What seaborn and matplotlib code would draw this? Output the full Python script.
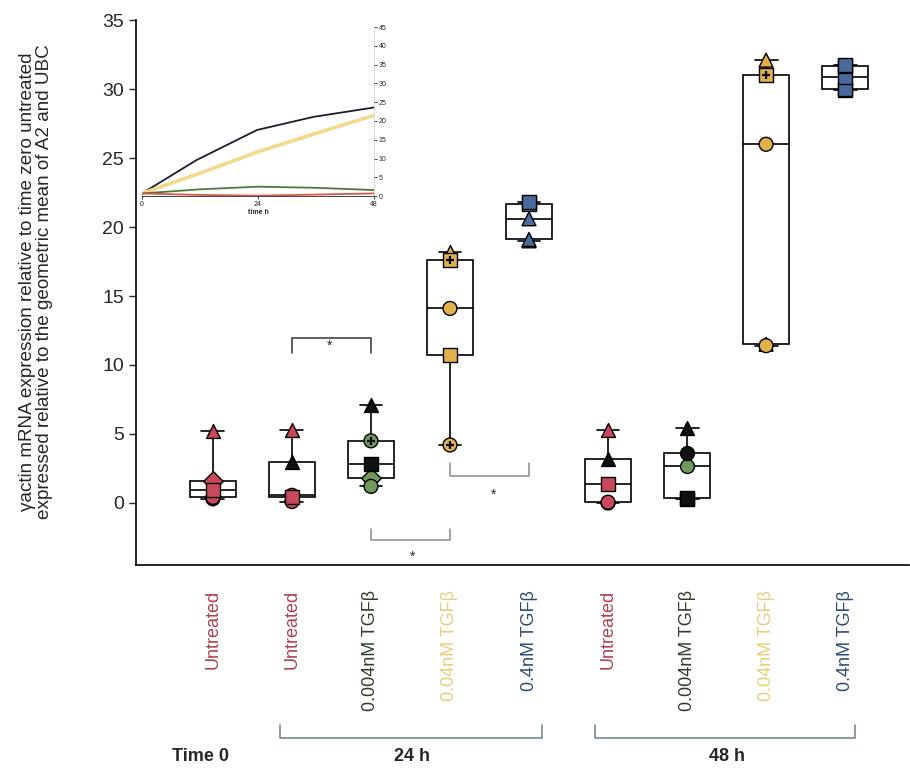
import numpy as np
import pandas as pd
import matplotlib
matplotlib.use("Agg")
import matplotlib.pyplot as plt
import matplotlib.transforms as mtransforms
import seaborn as sns

# categories (left to right)
groups = ["t0_u", "24_u", "24_004", "24_04", "24_4", "48_u", "48_004", "48_04", "48_4"]
tick_labels = ["Untreated", "Untreated", "0.004nM TGFβ", "0.04nM TGFβ", "0.4nM TGFβ",
               "Untreated", "0.004nM TGFβ", "0.04nM TGFβ", "0.4nM TGFβ"]
treatment = ["u", "u", "004", "04", "4", "u", "004", "04", "4"]

# replicate values
t0_untreated = [0.3, 0.4, 0.95, 1.6, 5.2]
h24_untreated = [0.1, 0.4, 0.55, 3.0, 5.3]
h24_0004 = [1.2, 1.8, 2.8, 4.5, 7.1]
h24_004 = [4.2, 10.7, 14.1, 17.6, 18.2]
h24_04 = [19.0, 19.1, 20.6, 21.7, 21.8]
h48_untreated = [0.0, 0.05, 1.4, 3.2, 5.3]
h48_0004 = [0.3, 0.35, 2.7, 3.6, 5.4]
h48_004 = [11.4, 11.5, 26.0, 31.0, 32.1]
h48_04 = [29.95, 30.0, 30.85, 31.7, 31.75]

# marker per replicate ("k" prefix = black fill, "+" suffix = cross inside)
mk_t0_untreated = ["o", "o", "s", "D", "^"]
mk_h24_untreated = ["o", "s", "o", "k^", "^"]
mk_h24_0004 = ["o", "D", "ks", "o+", "k^"]
mk_h24_004 = ["o+", "s", "o", "s+", "^"]
mk_h24_04 = ["^", "^", "^", "s", "s"]
mk_h48_untreated = ["o", "o", "s", "k^", "^"]
mk_h48_0004 = ["ks", "ks", "o", "ko", "k^"]
mk_h48_004 = ["o", "^", "o", "s+", "^"]
mk_h48_04 = ["s", "s", "s", "s", "s"]

# inset: time course
inset_t = [0, 11.3, 23.8, 35.5, 48]
inset_04 = [0.7, 9.6, 17.6, 21.1, 23.6]
inset_t_lin = [0, 12, 24, 36, 48]
inset_004 = [0.7, 6.1, 11.8, 16.7, 21.5]
inset_0004 = [0.7, 1.8, 2.5, 2.2, 1.6]
inset_u = [0.7, 0.3, 0.1, 0.4, 0.7]

values = [t0_untreated, h24_untreated, h24_0004, h24_004, h24_04,
          h48_untreated, h48_0004, h48_004, h48_04]
markers = [mk_t0_untreated, mk_h24_untreated, mk_h24_0004, mk_h24_004, mk_h24_04,
           mk_h48_untreated, mk_h48_0004, mk_h48_004, mk_h48_04]

rows = []
for g, vals, mks in zip(groups, values, markers):
    for v, m in zip(vals, mks):
        rows.append({"group": g, "value": v, "mk": m})
df = pd.DataFrame(rows)
df["black"] = df["mk"].str.startswith("k")
df["shape"] = df["mk"].str.replace("k", "").str.replace("+", "")
df["cross"] = df["mk"].str.endswith("+")

point_col = {"u": "#c9485b", "004": "#6f9a5f", "04": "#e2b24a", "4": "#4a6a9e"}
label_col = {"u": "#b23f4e", "004": "#2f3d28", "04": "#e8cf7a", "4": "#2d4a78"}
palette = {g: point_col[t] for g, t in zip(groups, treatment)}

sns.set_style("ticks")
plt.rcParams["font.family"] = ["Liberation Sans", "DejaVu Sans"]

fig = plt.figure(figsize=(9.1, 7.75), dpi=100)
ax = fig.add_axes([0.1495, 0.271, 0.8495, 0.703])

sns.boxplot(data=df, x="group", y="value", order=groups, whis=(0, 100),
            width=0.58, color="white", linecolor="black", linewidth=1.2,
            showfliers=False, ax=ax)

for (shape, black), sub in df.groupby(["shape", "black"]):
    if black:
        sns.stripplot(data=sub, x="group", y="value", order=groups, jitter=False,
                      marker=shape, color="#111111", size=10, edgecolor="black",
                      linewidth=1, ax=ax, zorder=3)
    else:
        sns.stripplot(data=sub, x="group", y="value", order=groups, jitter=False,
                      hue="group", palette=palette, legend=False, marker=shape,
                      size=10, edgecolor="black", linewidth=1, ax=ax, zorder=3)
crosses = df[df["cross"]]
sns.stripplot(data=crosses, x="group", y="value", order=groups, jitter=False,
              marker="+", color="black", size=6, linewidth=1.6, ax=ax, zorder=4)

ax.set_xlim(-0.973, 8.81)
ax.set_ylim(-4.5, 35)
ax.set_yticks(range(0, 36, 5))
ax.tick_params(axis="y", labelsize=14, length=5, width=1, direction="out")
ax.set_xticks(range(len(groups)))
ax.set_xticklabels(tick_labels, rotation=90, fontsize=13)
ax.tick_params(axis="x", length=0, pad=18)
for lbl, t in zip(ax.get_xticklabels(), treatment):
    lbl.set_color(label_col[t])
ax.set_xlabel("")
ax.set_ylabel("γactin mRNA expression relative to time zero untreated\n"
              "expressed relative to the geometric mean of A2 and UBC",
              fontsize=13.6, linespacing=1.0)
ax.yaxis.set_label_coords(-0.108, 0.52)
for s in ["top", "right"]:
    ax.spines[s].set_visible(False)
for s in ["left", "bottom"]:
    ax.spines[s].set_linewidth(1.2)
    ax.spines[s].set_color("black")

# significance brackets
ax.plot([1, 1, 2, 2], [10.9, 11.95, 11.95, 10.9], color="#333333", lw=1.1)
ax.text(1.47, 11.4, "*", ha="center", va="center", fontsize=10)
ax.plot([2.0, 2.0, 3.0, 3.0], [-1.9, -2.7, -2.7, -1.9], color="#8a8a8a", lw=1.1)
ax.text(2.53, -3.9, "*", ha="center", va="center", fontsize=10)
ax.plot([3.0, 3.0, 4.0, 4.0], [2.9, 1.95, 1.95, 2.9], color="#8a8a8a", lw=1.1)
ax.text(3.55, 0.6, "*", ha="center", va="center", fontsize=10)

# time group brackets under the labels
trans = mtransforms.blended_transform_factory(ax.transData, ax.transAxes)
br_col = "#6f7f88"
ax.plot([0.85, 0.85, 4.17, 4.17], [-0.294, -0.317, -0.317, -0.294],
        color=br_col, lw=1.1, transform=trans, clip_on=False)
ax.plot([4.84, 4.84, 8.13, 8.13], [-0.294, -0.317, -0.317, -0.294],
        color=br_col, lw=1.1, transform=trans, clip_on=False)
grp_font = dict(fontsize=13, fontweight="bold", ha="center", va="center",
                transform=trans, family=["Liberation Sans Narrow", "Liberation Sans"])
ax.text(-0.16, -0.352, "Time 0", **grp_font)
ax.text(2.52, -0.352, "24 h", **grp_font)
ax.text(6.51, -0.352, "48 h", **grp_font)

# inset time course
ins = fig.add_axes([0.156, 0.747, 0.255, 0.218])
ins.set_facecolor("none")
sns.lineplot(x=inset_t, y=inset_04, color="#1c1c2c", lw=1.3, ax=ins)
sns.lineplot(x=inset_t_lin, y=inset_004, color="#f2d98e", lw=2.6, ax=ins)
sns.lineplot(x=inset_t_lin, y=inset_0004, color="#4d7a3c", lw=1.3, ax=ins)
sns.lineplot(x=inset_t_lin, y=inset_u, color="#d8584a", lw=1.3, ax=ins)
ins.set_xlim(0, 48)
ins.set_ylim(0, 45)
ins.set_xticks([0, 24, 48])
ins.set_yticks(range(0, 46, 5))
ins.yaxis.tick_right()
ins.tick_params(labelsize=5, length=2, width=0.6, pad=1.5)
ins.set_xlabel("time h", fontsize=5, fontweight="bold", labelpad=1)
for s in ["top", "left"]:
    ins.spines[s].set_visible(False)
ins.spines["bottom"].set_linewidth(0.6)
ins.spines["right"].set_linewidth(0.4)
ins.spines["right"].set_color("#bbbbbb")

fig.savefig("out.png", dpi=100)
